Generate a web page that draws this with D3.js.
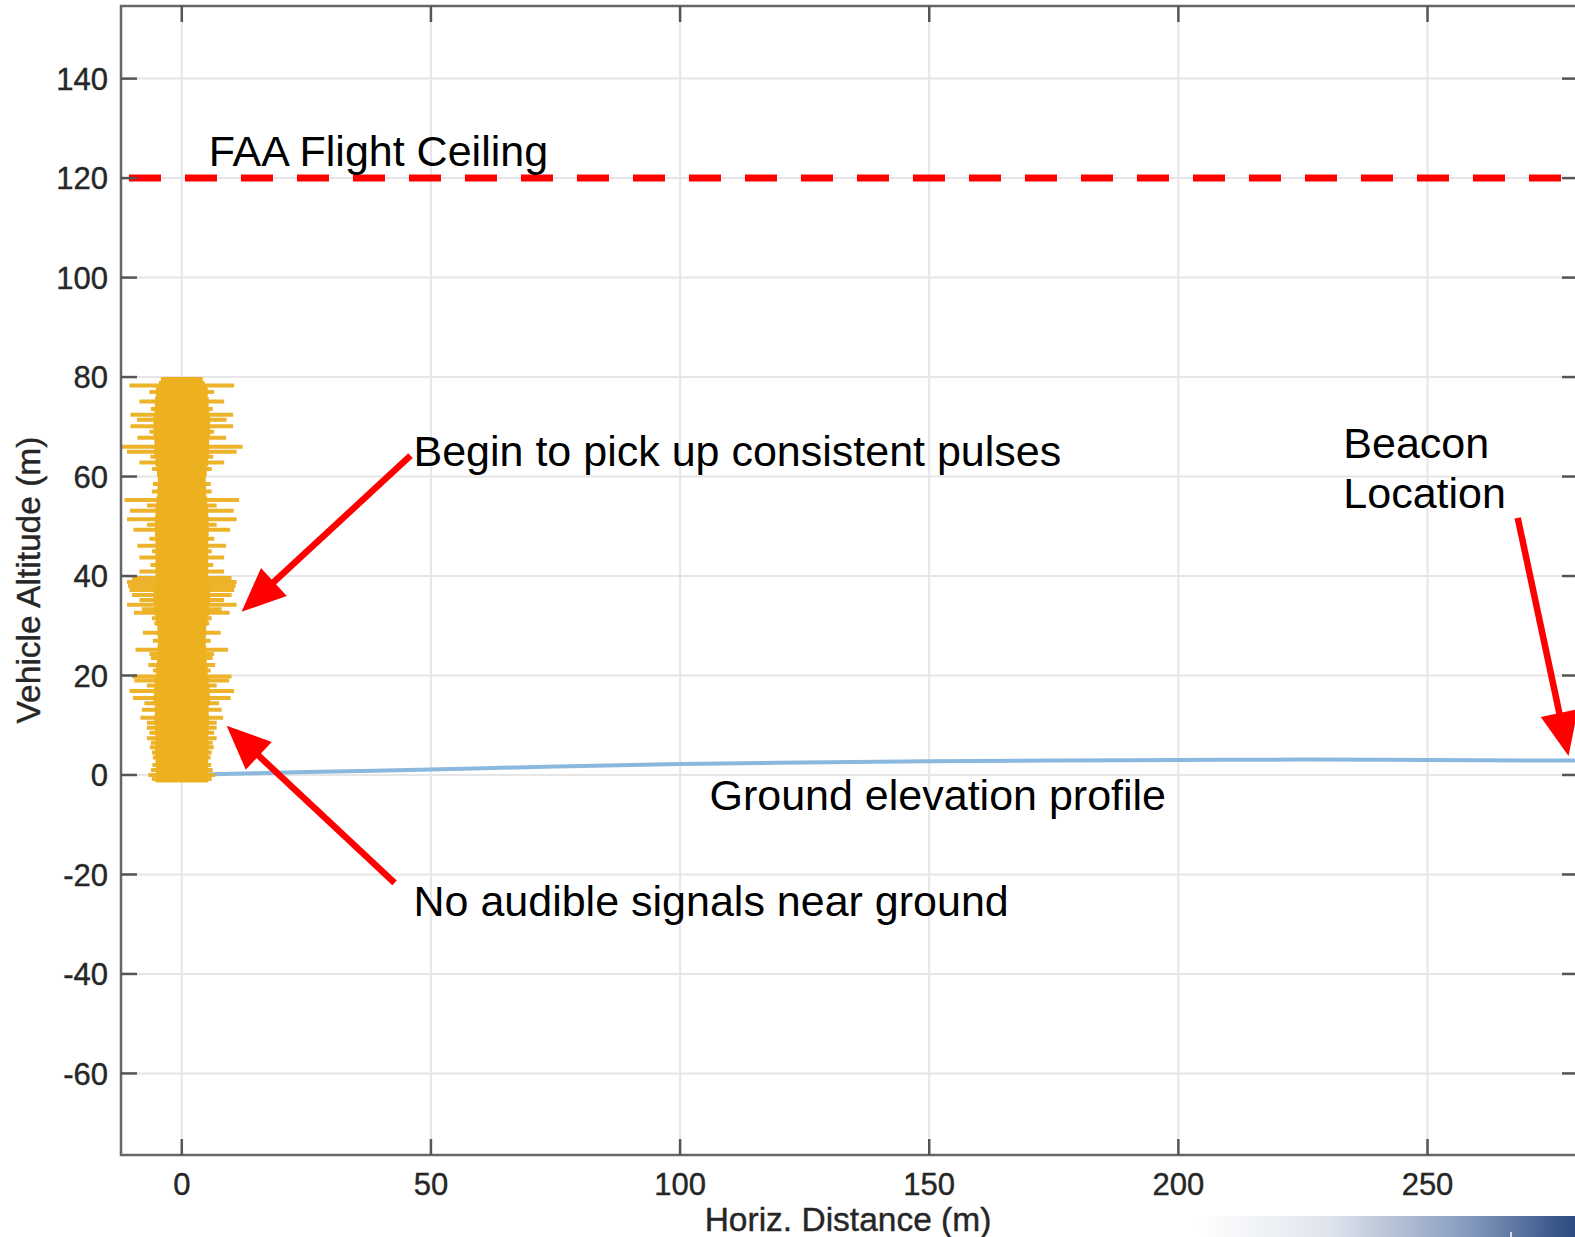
<!DOCTYPE html>
<html>
<head>
<meta charset="utf-8">
<script src="https://cdn.jsdelivr.net/npm/d3@7"></script>
<style>
  html, body { margin: 0; padding: 0; background: #fff; }
  svg { display: block; }
</style>
</head>
<body>
<svg id="chart" width="1575" height="1237"></svg>
<script>
// ---------------- DATA ----------------
const xTicks = [0, 50, 100, 150, 200, 250];
const yTicks = [-60, -40, -20, 0, 20, 40, 60, 80, 100, 120, 140];

// Ground elevation profile (m)
const groundDist = [0, 10, 25, 50, 75, 100, 125, 150, 175, 200, 225, 250, 280];
const groundElev = [0, 0.25, 0.6, 1.1, 1.7, 2.2, 2.5, 2.75, 2.9, 3.0, 3.1, 3.0, 2.9];

// Received pulses: dense core (altitude, half-width in m about x = 0)
const coreAlt  = [-1.5, 0, 2, 4, 6, 8, 10, 12, 14, 16, 18, 20, 22, 24, 26, 28, 30, 32, 34, 36, 38, 40,
                  42, 44, 46, 48, 50, 52, 54, 56, 58, 60, 62, 64, 66, 68, 70, 72, 74, 76, 78, 79.2, 80];
const coreHalf = [5.0, 5.3, 5.2, 5.3, 5.4, 5.3, 5.4, 5.5, 5.4, 5.7, 5.6, 5.4, 5.2, 5.0, 4.9, 4.8, 4.9, 5.2, 5.5, 5.7, 5.7, 5.4,
                  5.3, 5.3, 5.3, 5.3, 5.4, 5.4, 5.3, 5.1, 4.9, 4.8, 5.0, 5.3, 5.5, 5.5, 5.7, 5.7, 5.5, 5.4, 5.2, 4.6, 4.2];

// Received pulses: individual strong pulses (altitude, half-width in m)
const pulseAlt  = [78.3, 77.0, 75.1, 73.6, 72.4, 71.4, 70.1, 69.0, 67.8, 66.0, 65.0, 64.0, 62.8, 61.5,
                   58.5, 57.0, 55.3, 54.2, 53.1, 51.4, 50.3, 49.3, 47.5, 46.1, 45.0, 43.7, 42.2, 40.9,
                   39.6, 38.8, 38.0, 37.2, 36.2, 35.2, 34.2, 33.3, 32.6, 31.5, 30.5, 28.6, 27.0, 25.2,
                   24.3, 23.5, 22.1, 21.0, 19.8, 19.0, 18.0, 16.9, 15.5, 14.4, 13.1, 11.5, 10.5, 9.5,
                   8.5, 7.4, 6.5, 5.6, 4.5, 3.5, 2.0, 1.0, 0.0, -0.8];
const pulseHalf = [10.5, 6.5, 8.5, 6.2, 10.3, 9.0, 10.3, 6.5, 8.9, 12.2, 11.0, 6.3, 8.5, 6.0,
                   5.8, 6.0, 11.5, 7.0, 10.4, 11.0, 7.0, 9.7, 6.5, 8.9, 6.0, 8.5, 6.3, 8.5,
                   10.0, 11.0, 10.8, 10.5, 10.0, 8.5, 11.0, 8.0, 9.6, 6.0, 5.5, 7.8, 5.8, 9.3,
                   6.5, 6.2, 6.7, 5.8, 10.0, 9.5, 7.0, 10.5, 9.8, 7.5, 8.0, 8.3, 7.0, 7.0,
                   6.5, 7.0, 6.2, 6.4, 6.0, 5.8, 5.9, 6.2, 6.7, 6.0];

// FAA ceiling
const ceilingAlt = 120;
const ceilingRange = [-10.6, 280];

// Annotation texts (data coordinates of text start / baseline)
const labels = [
  { text: "FAA Flight Ceiling", x: 5.4, y: 122.5 },
  { text: "Begin to pick up consistent pulses", x: 46.5, y: 62.2 },
  { text: "Beacon", x: 233.1, y: 63.8 },
  { text: "Location", x: 233.1, y: 53.7 },
  { text: "Ground elevation profile", x: 105.9, y: -7.0 },
  { text: "No audible signals near ground", x: 46.5, y: -28.4 }
];
// Arrows: from (x1,y1) to tip (x2,y2), data coordinates
const arrows = [
  { x1: 45.9, y1: 64.2, x2: 12.0, y2: 32.8 },
  { x1: 42.7, y1: -21.7, x2: 9.0, y2: 9.9 },
  { x1: 268.1, y1: 51.7, x2: 278.3, y2: 3.8 }
];

// ---------------- LAYOUT ----------------
const svg = d3.select("#chart");
const mLeft = 121, mTop = 6, mRight = 1577, mBottom = 1155;
const x = d3.scaleLinear().domain([-12.2, 280]).range([mLeft, mRight]);
const y = d3.scaleLinear().domain([-76.4, 154.6]).range([mBottom, mTop]);

const font = "'Liberation Sans', Arial, Helvetica, sans-serif";
const orange = "#EDB120";

// defs
const defs = svg.append("defs");
defs.append("clipPath").attr("id", "plotclip")
  .append("rect").attr("x", mLeft).attr("y", mTop).attr("width", mRight - mLeft).attr("height", mBottom - mTop);
const grad = defs.append("linearGradient").attr("id", "banner").attr("x1", "0").attr("x2", "1").attr("y1", "0").attr("y2", "0");
grad.append("stop").attr("offset", "0").attr("stop-color", "#ffffff");
grad.append("stop").attr("offset", "0.35").attr("stop-color", "#dfe4ec");
grad.append("stop").attr("offset", "0.7").attr("stop-color", "#8a9ec0");
grad.append("stop").attr("offset", "1").attr("stop-color", "#2b4a80");

// grid
const grid = svg.append("g");
grid.selectAll("line.gx").data(xTicks).join("line")
  .attr("x1", d => x(d)).attr("x2", d => x(d)).attr("y1", mTop).attr("y2", mBottom)
  .attr("stroke", "#e6e6e6").attr("stroke-width", 2);
grid.selectAll("line.gy").data(yTicks).join("line")
  .attr("x1", mLeft).attr("x2", mRight).attr("y1", d => y(d)).attr("y2", d => y(d))
  .attr("stroke", "#e6e6e6").attr("stroke-width", 2);

const plot = svg.append("g").attr("clip-path", "url(#plotclip)");

// ground profile
plot.append("path")
  .datum(groundDist.map((d, i) => [d, groundElev[i]]))
  .attr("fill", "none").attr("stroke", "#8ab8df").attr("stroke-width", 4)
  .attr("d", d3.line().x(d => x(d[0])).y(d => y(d[1])).curve(d3.curveMonotoneX));

// pulse core
plot.append("path")
  .datum(coreAlt.map((a, i) => [a, coreHalf[i]]))
  .attr("fill", orange)
  .attr("d", d3.area().y(d => y(d[0])).x0(d => x(-d[1])).x1(d => x(d[1])).curve(d3.curveStepAfter));

// individual pulses
plot.selectAll("line.pulse").data(pulseAlt.map((a, i) => [a, pulseHalf[i]])).join("line")
  .attr("x1", d => x(-d[1])).attr("x2", d => x(d[1]))
  .attr("y1", d => y(d[0])).attr("y2", d => y(d[0]))
  .attr("stroke", orange).attr("stroke-width", 4).attr("opacity", 0.95);

// FAA ceiling
plot.append("line")
  .attr("x1", x(ceilingRange[0])).attr("x2", x(ceilingRange[1]))
  .attr("y1", y(ceilingAlt)).attr("y2", y(ceilingAlt))
  .attr("stroke", "#ff0000").attr("stroke-width", 7).attr("stroke-dasharray", "32,24");

// frame
svg.append("rect").attr("x", mLeft).attr("y", mTop).attr("width", mRight - mLeft).attr("height", mBottom - mTop)
  .attr("fill", "none").attr("stroke", "#666").attr("stroke-width", 2.5);

// ticks (inward)
const tk = svg.append("g").attr("stroke", "#555").attr("stroke-width", 2.5);
xTicks.forEach(t => {
  tk.append("line").attr("x1", x(t)).attr("x2", x(t)).attr("y1", mBottom).attr("y2", mBottom - 16);
  tk.append("line").attr("x1", x(t)).attr("x2", x(t)).attr("y1", mTop).attr("y2", mTop + 16);
});
yTicks.forEach(t => {
  tk.append("line").attr("x1", mLeft).attr("x2", mLeft + 16).attr("y1", y(t)).attr("y2", y(t));
  tk.append("line").attr("x1", mRight).attr("x2", mRight - 15).attr("y1", y(t)).attr("y2", y(t));
});

// tick labels
svg.selectAll("text.xt").data(xTicks).join("text")
  .attr("x", d => x(d)).attr("y", 1195).attr("text-anchor", "middle")
  .attr("font-family", font).attr("font-size", 31).attr("fill", "#262626")
  .attr("stroke", "#262626").attr("stroke-width", 0.4)
  .text(d => d);
svg.selectAll("text.yt").data(yTicks).join("text")
  .attr("x", 108).attr("y", d => y(d)).attr("dy", "0.36em").attr("text-anchor", "end")
  .attr("font-family", font).attr("font-size", 31).attr("fill", "#262626")
  .attr("stroke", "#262626").attr("stroke-width", 0.4)
  .text(d => d);

// axis labels
svg.append("text").attr("transform", "translate(40,580) rotate(-90)")
  .attr("text-anchor", "middle").attr("font-family", font).attr("font-size", 33.5).attr("fill", "#262626")
  .attr("stroke", "#262626").attr("stroke-width", 0.4)
  .text("Vehicle Altitude (m)");
svg.append("text").attr("x", 848).attr("y", 1231)
  .attr("text-anchor", "middle").attr("font-family", font).attr("font-size", 33.5).attr("fill", "#262626")
  .attr("stroke", "#262626").attr("stroke-width", 0.4)
  .text("Horiz. Distance (m)");

// arrows
const ar = svg.append("g");
arrows.forEach(a => {
  const X1 = x(a.x1), Y1 = y(a.y1), X2 = x(a.x2), Y2 = y(a.y2);
  const ang = Math.atan2(Y2 - Y1, X2 - X1);
  const hl = 44, hw = 19;
  const bx = X2 - hl * Math.cos(ang), by = Y2 - hl * Math.sin(ang);
  ar.append("line").attr("x1", X1).attr("y1", Y1).attr("x2", bx + 4 * Math.cos(ang)).attr("y2", by + 4 * Math.sin(ang))
    .attr("stroke", "#ff0000").attr("stroke-width", 6.5);
  const px = -Math.sin(ang), py = Math.cos(ang);
  ar.append("path")
    .attr("d", `M${X2},${Y2}L${bx + hw * px},${by + hw * py}L${bx - hw * px},${by - hw * py}Z`)
    .attr("fill", "#ff0000");
});

// annotation texts
svg.selectAll("text.ann").data(labels).join("text")
  .attr("x", d => x(d.x)).attr("y", d => y(d.y))
  .attr("font-family", font).attr("font-size", 43).attr("fill", "#000")
  .text(d => d.text);

// footer banner
svg.append("rect").attr("x", 1198).attr("y", 1216).attr("width", 377).attr("height", 21).attr("fill", "url(#banner)");
svg.append("line").attr("x1", 1511).attr("x2", 1511).attr("y1", 1232).attr("y2", 1237).attr("stroke", "#fff").attr("stroke-width", 1.5);
</script>
</body>
</html>
